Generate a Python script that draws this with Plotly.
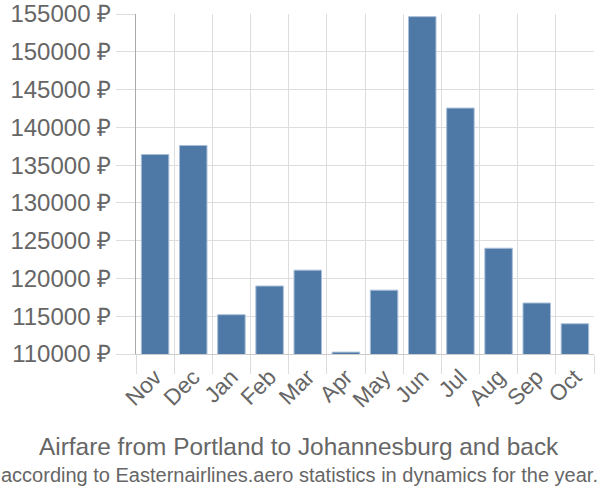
import plotly.graph_objects as go

months = ["Nov", "Dec", "Jan", "Feb", "Mar", "Apr", "May", "Jun", "Jul", "Aug", "Sep", "Oct"]
prices = [136400, 137600, 115200, 119000, 121100, 110250, 118450, 154650, 142550, 124000, 116750, 114000]
y_ticks = [110000, 115000, 120000, 125000, 130000, 135000, 140000, 145000, 150000, 155000]
y_labels = [f"{v} ₽" for v in y_ticks]

title = "Airfare from Portland to Johannesburg and back"
subtitle = "according to Easternairlines.aero statistics in dynamics for the year."

fig = go.Figure(go.Bar(
    x=months, y=prices,
    marker=dict(color="#4e78a6", line=dict(color="#a9bfd9", width=1)),
    width=0.72,
))

fig.update_layout(
    width=600, height=500,
    margin=dict(l=136, r=6, t=14, b=146),
    plot_bgcolor="white", paper_bgcolor="white",
    font=dict(family="Liberation Sans, Arial, sans-serif", color="#666666"),
    showlegend=False,
    xaxis=dict(
        tickson="boundaries", ticks="outside", ticklen=19, tickcolor="#dddddd",
        showgrid=True, gridcolor="#dddddd", gridwidth=1,
        showline=True, linecolor="#cccccc", linewidth=1,
        tickangle=-45, tickfont=dict(size=22.5, color="#666666"),
        automargin=False,
    ),
    yaxis=dict(
        range=[110000, 155000], tickvals=y_ticks, ticktext=y_labels,
        ticks="outside", ticklen=19, tickcolor="#dddddd",
        showgrid=True, gridcolor="#dddddd", gridwidth=1,
        showline=True, linecolor="#aaaaaa", linewidth=1,
        tickfont=dict(size=24, color="#666666"), zeroline=False,
        automargin=False,
    ),
)
plot_h = 500 - 14 - 146
plot_w = 600 - 136 - 6
for text, ypx, size in [(title, 446, 24.4), (subtitle, 475, 20)]:
    fig.add_annotation(
        text=text, xref="paper", yref="paper",
        x=(299 - 136) / plot_w, y=(500 - 146 - ypx) / plot_h,
        xanchor="center", yanchor="middle", showarrow=False,
        font=dict(size=size, color="#666666"),
    )

fig.write_html("out.html")
